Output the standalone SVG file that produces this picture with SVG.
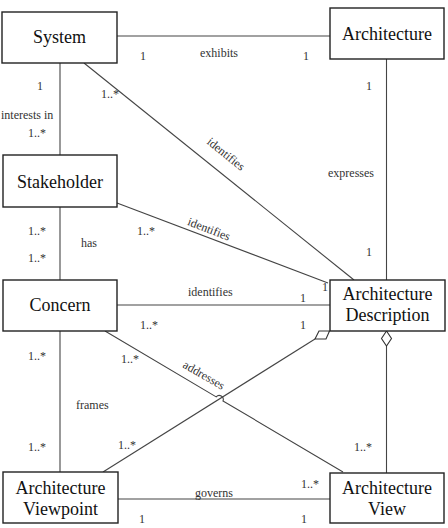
<svg xmlns="http://www.w3.org/2000/svg" width="448" height="528" viewBox="0 0 448 528">
<style>
.box{fill:#fff;stroke:#222;stroke-width:1.4}
.ln{fill:none;stroke:#444;stroke-width:1.1}
.dia{fill:#fff;stroke:#333;stroke-width:1.1}
text{font-family:'Liberation Serif','Tinos','Times New Roman','DejaVu Serif',serif}
.nt{font-size:18px;fill:#111;text-anchor:middle}
.lb{font-size:12px;fill:#333}
.mid{text-anchor:middle}
</style>
<rect width="448" height="528" fill="#fff"/>
<g id="connectors">
<line class="ln" x1="117" y1="36" x2="330" y2="36"/>
<line class="ln" x1="386.5" y1="59" x2="386.5" y2="280"/>
<line class="ln" x1="60" y1="63" x2="60" y2="155"/>
<line class="ln" x1="84" y1="63" x2="354" y2="280"/>
<line class="ln" x1="60" y1="207" x2="60" y2="280"/>
<line class="ln" x1="117" y1="203" x2="328" y2="283"/>
<line class="ln" x1="117" y1="305" x2="330" y2="305"/>
<line class="ln" x1="60" y1="331" x2="60" y2="472"/>
<path class="ln" d="M105,331 L216.2,396.9 A4,4 0 0 1 223,400.9 L343,472"/>
<line class="ln" x1="103" y1="472" x2="315" y2="339"/>
<polygon class="dia" points="329.5,331 326,339 315,339 319,331"/>
<line class="ln" x1="386.5" y1="346" x2="386.5" y2="473"/>
<polygon class="dia" points="386.5,331 381.5,338.5 386.5,346 391.5,338.5"/>
<line class="ln" x1="118" y1="499" x2="330" y2="499"/>
</g>
<g id="labels">
<text class="lb" x="140" y="60">1</text>
<text class="lb" x="200" y="57">exhibits</text>
<text class="lb" x="303" y="60">1</text>
<text class="lb" x="37" y="90">1</text>
<text class="lb" x="1" y="119">interests in</text>
<text class="lb" x="28" y="137">1..*</text>
<text class="lb" x="101" y="98">1..*</text>
<text class="lb mid" transform="translate(226,154) rotate(39)" y="4">identifies</text>
<text class="lb" x="328" y="177">expresses</text>
<text class="lb" x="366" y="90">1</text>
<text class="lb" x="366" y="256">1</text>
<text class="lb" x="28" y="235">1..*</text>
<text class="lb" x="81" y="247">has</text>
<text class="lb" x="28" y="262">1..*</text>
<text class="lb" x="137" y="235">1..*</text>
<text class="lb mid" transform="translate(209,229) rotate(21)" y="4">identifies</text>
<text class="lb" x="188" y="296">identifies</text>
<text class="lb" x="322" y="291">1</text>
<text class="lb" x="300" y="302">1</text>
<text class="lb" x="140" y="329">1..*</text>
<text class="lb" x="300" y="329">1</text>
<text class="lb" x="28" y="360">1..*</text>
<text class="lb" x="121" y="363">1..*</text>
<text class="lb mid" transform="translate(204,375) rotate(30)" y="4">addresses</text>
<text class="lb" x="76" y="409">frames</text>
<text class="lb" x="28" y="451">1..*</text>
<text class="lb" x="118" y="449">1..*</text>
<text class="lb" x="195" y="497">governs</text>
<text class="lb" x="301" y="488">1..*</text>
<text class="lb" x="139" y="523">1</text>
<text class="lb" x="301" y="523">1</text>
<text class="lb" x="354" y="451">1..*</text>
</g>
<g id="system"><rect class="box" x="2" y="12" width="115" height="51"/><text class="nt" x="59.5" y="43">System</text></g>
<g id="architecture"><rect class="box" x="330" y="8" width="114" height="51"/><text class="nt" x="387" y="39.5">Architecture</text></g>
<g id="stakeholder"><rect class="box" x="3" y="155" width="114" height="52"/><text class="nt" x="60" y="188">Stakeholder</text></g>
<g id="concern"><rect class="box" x="3" y="280" width="114" height="51"/><text class="nt" x="60" y="311">Concern</text></g>
<g id="architecture-description"><rect class="box" x="330" y="280" width="115" height="51"/><text class="nt" x="387.5" y="300">Architecture</text><text class="nt" x="387.5" y="320.5">Description</text></g>
<g id="architecture-viewpoint"><rect class="box" x="3" y="472" width="115" height="51"/><text class="nt" x="60.5" y="494">Architecture</text><text class="nt" x="60.5" y="515">Viewpoint</text></g>
<g id="architecture-view"><rect class="box" x="330" y="473" width="114" height="50"/><text class="nt" x="387" y="494">Architecture</text><text class="nt" x="387" y="514.5">View</text></g>
</svg>
